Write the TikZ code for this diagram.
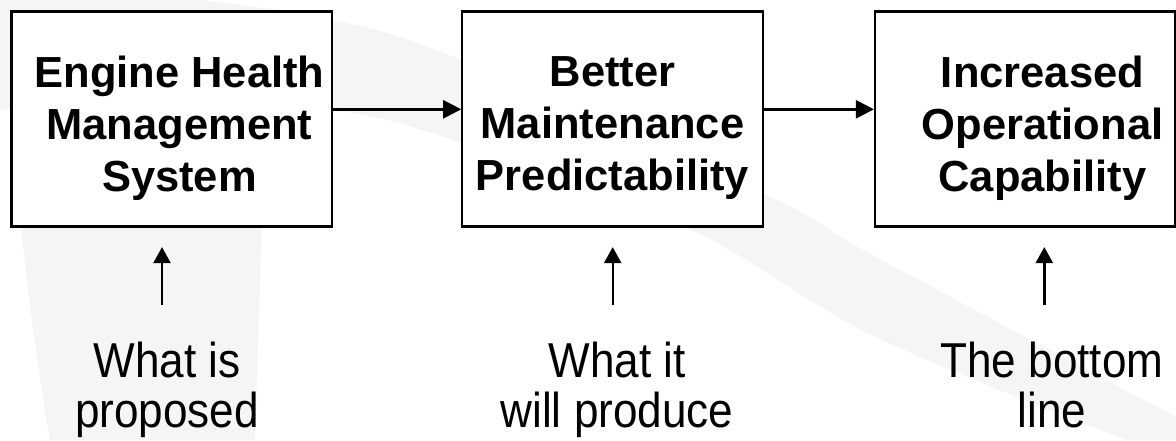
\documentclass[tikz,border=0pt]{standalone}
\usepackage{fontspec}
\setmainfont{Liberation Sans}
\newfontfamily\labfont[FakeStretch=0.9]{Liberation Sans}
\usetikzlibrary{arrows.meta}
\begin{document}
\begin{tikzpicture}[x=1pt,y=-1pt,
  box/.style={draw=black, line width=2.2pt, fill=white, minimum height=215pt, inner sep=0pt},
  boxtext/.style={align=center, inner sep=0pt, anchor=north, font=\fontsize{43.5pt}{52pt}\selectfont\bfseries},
  lab/.style={align=center, inner sep=0pt, anchor=north, font=\labfont\fontsize{49pt}{50pt}\selectfont},
  harr/.style={line width=2.6pt, -{Triangle[length=18pt,width=18pt]}},
  varr/.style={line width=2.4pt, -{Triangle[length=16pt,width=17pt]}},
  wm/.style={fill=black!4, draw=none}]
\useasboundingbox[fill=white] (0,0) rectangle (1176,440);
% faint watermark swoosh
\fill[wm] plot[smooth, tension=0.6] coordinates {(200,0) (333,20) (462,60) (763,193) (876,257) (1176,417)}
  -- (1176,440) -- (1126,440)
  -- plot[smooth, tension=0.6] coordinates {(1126,440) (876,337) (693,231) (462,143) (333,110) (150,95) (0,110)}
  -- (0,0) -- cycle;
\fill[wm] (20,215) .. controls (28,300) and (40,380) .. (50,440) -- (255,440) -- (262,215) -- cycle;
% boxes
\node[box, minimum width=320.2pt] (b1) at (171.6,119) {};
\node[box, minimum width=300.4pt] (b2) at (612.5,119) {};
\node[box, minimum width=299.7pt] (b3) at (1024.85,119) {};
\node[boxtext] (t1) at (179.5,56) {Engine Health\\Management\\System};
\node[boxtext] (t2) at (612.5,56) {Better\\Maintenance\\Predictability};
\node[boxtext] (t3) at (1042.5,56) {Increased\\Operational\\Capability};
% labels
\node[lab] (l1) at (167,342) {What is\\proposed};
\node[lab] (l2) at (617,342) {What it\\will produce};
\node[lab] (l3) at (1052,342) {The bottom\\line};
% arrows
\draw[harr] ([yshift=9.7pt]b1.east) -- ([yshift=9.7pt]b2.west);
\draw[harr] ([yshift=9.7pt]b2.east) -- ([yshift=9.7pt]b3.west);
\draw[varr, shorten >=19.5pt] (l1.north) ++(-5,-37) coordinate (s1) -- (s1 |- b1.south);
\draw[varr, shorten >=19.5pt] (l2.north) ++(-4.3,-37) coordinate (s2) -- (s2 |- b2.south);
\draw[varr, shorten >=19.5pt] (l3.north) ++(-7.7,-37) coordinate (s3) -- (s3 |- b3.south);
\end{tikzpicture}
\end{document}
